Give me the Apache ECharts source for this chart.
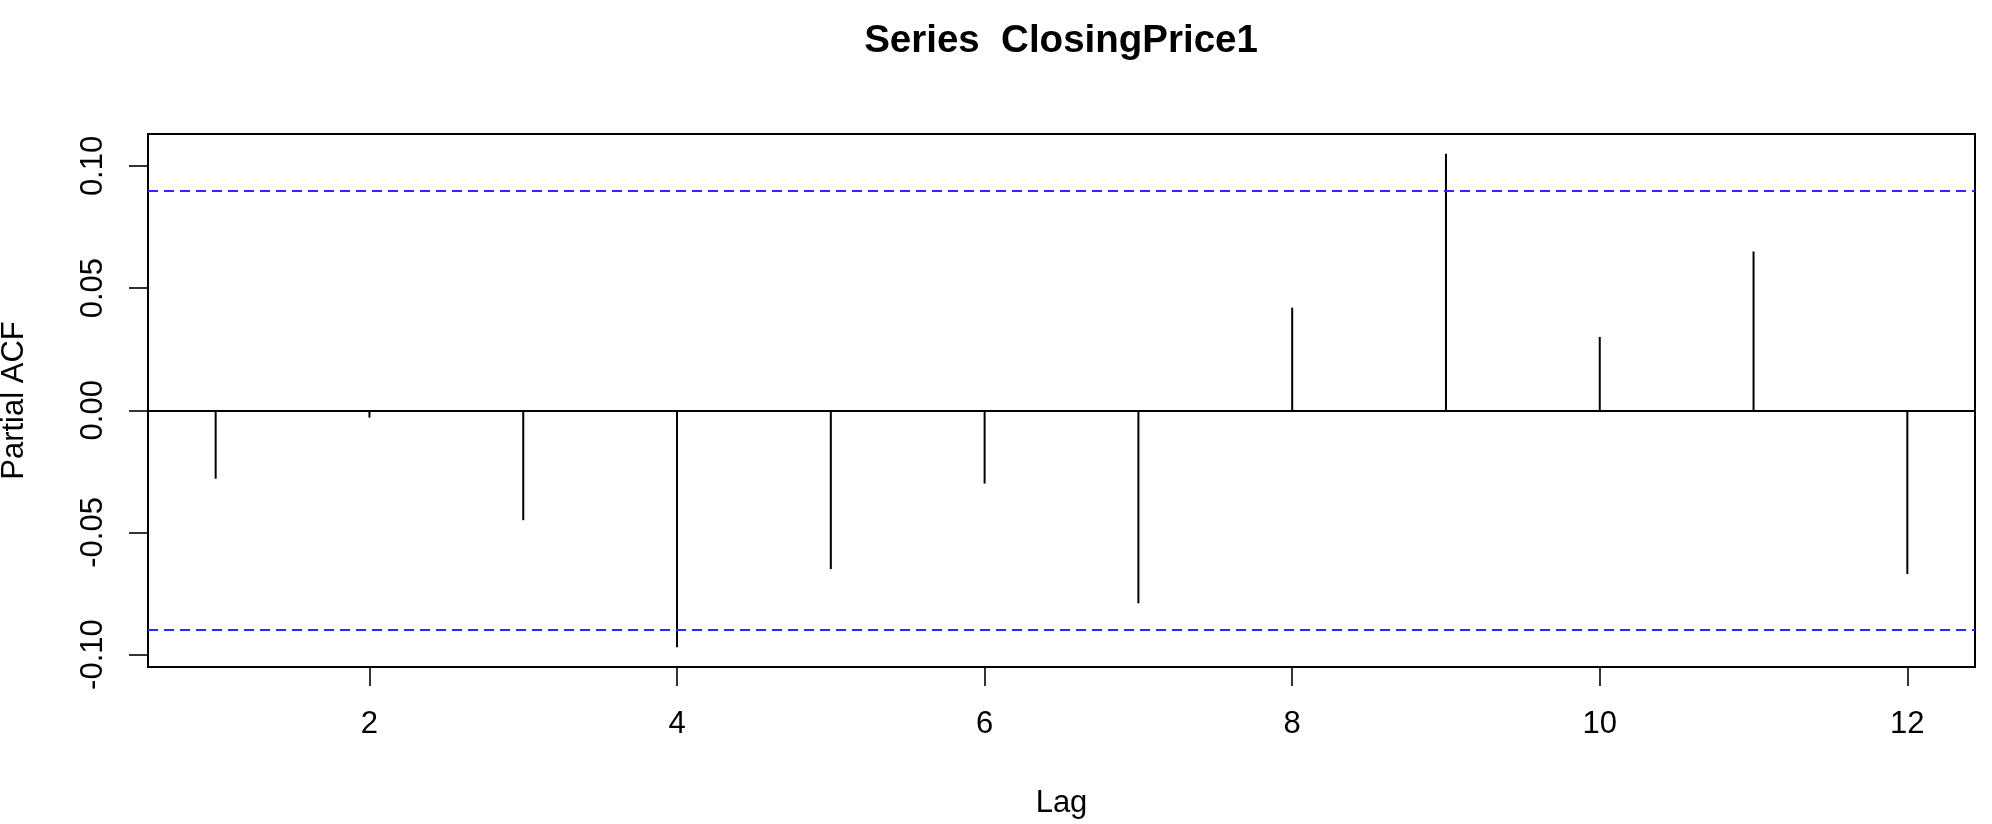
<!DOCTYPE html>
<html>
<head>
<meta charset="utf-8">
<script src="https://cdn.jsdelivr.net/npm/echarts@6/dist/echarts.min.js"></script>
<style>
  html, body { margin: 0; padding: 0; background: #fff; }
  #chart { width: 1992px; height: 824px; }
</style>
</head>
<body>
<div id="chart"></div>
<script>
// ---- data ----
const lags = [1, 2, 3, 4, 5, 6, 7, 8, 9, 10, 11, 12];
const pacf = [-0.028, -0.003, -0.045, -0.097, -0.065, -0.030, -0.079, 0.042, 0.105, 0.030, 0.065, -0.067];
const confLimit = [0.09];
const xTicks = [2, 4, 6, 8, 10, 12];
const yTicks = [-0.10, -0.05, 0.00, 0.05, 0.10];

// R-style 4% axis extension
const xLo = Math.min(...lags), xHi = Math.max(...lags);
const xPad = 0.04 * (xHi - xLo);
const yLo = Math.min(...pacf, -confLimit[0]), yHi = Math.max(...pacf, confLimit[0]);
const yPad = 0.04 * (yHi - yLo);

const FONT = "'Liberation Sans', Arial, sans-serif";
const chart = echarts.init(document.getElementById('chart'), null, { renderer: 'canvas' });

chart.setOption({
  backgroundColor: '#ffffff',
  animation: false,
  title: {
    text: 'Series  ClosingPrice1',
    left: 1061, top: 22, textAlign: 'center', padding: 0,
    textStyle: { fontFamily: FONT, fontSize: 38.5, fontWeight: 'bold', color: '#000' }
  },
  grid: {
    left: 148, top: 134, width: 1827, height: 533,
    containLabel: false, outerBoundsMode: 'none',
    show: true, borderColor: '#000', borderWidth: 2, backgroundColor: 'transparent'
  },
  xAxis: {
    type: 'value',
    min: xLo - xPad, max: xHi + xPad,
    name: 'Lag', nameLocation: 'middle', nameGap: 121,
    nameTextStyle: { fontFamily: FONT, fontSize: 31, color: '#000' },
    axisLine: { show: false, onZero: false },
    axisTick: { show: true, length: 19, inside: false, customValues: xTicks,
                lineStyle: { color: '#000', width: 1.6 } },
    axisLabel: { customValues: xTicks, margin: 42, fontFamily: FONT, fontSize: 31, color: '#000',
                 formatter: v => String(v) },
    splitLine: { show: false }
  },
  yAxis: {
    type: 'value',
    min: yLo - yPad, max: yHi + yPad,
    name: 'Partial ACF', nameLocation: 'middle', nameGap: 118,
    nameTextStyle: { fontFamily: FONT, fontSize: 31, color: '#000' },
    axisLine: { show: false, onZero: false },
    axisTick: { show: true, length: 19, inside: false, customValues: yTicks,
                lineStyle: { color: '#000', width: 1.6 } },
    axisLabel: { customValues: yTicks, rotate: 90, margin: 39, fontFamily: FONT, fontSize: 31, color: '#000',
                 formatter: v => v.toFixed(2) },
    splitLine: { show: false }
  },
  series: [
    {
      type: 'custom',
      data: lags.map((l, i) => [l, pacf[i]]),
      renderItem: function (params, api) {
        const x = api.value(0), y = api.value(1);
        const p0 = api.coord([x, 0]);
        const p1 = api.coord([x, y]);
        return {
          type: 'line',
          shape: { x1: p0[0], y1: p0[1], x2: p1[0], y2: p1[1] },
          style: { stroke: '#000', lineWidth: 2 }
        };
      },
      markLine: {
        silent: true, symbol: 'none', label: { show: false },
        data: [
          { yAxis: 0, lineStyle: { color: '#000', width: 2, type: 'solid' } },
          { yAxis: confLimit[0], lineStyle: { color: '#2a2aff', width: 2, type: [10, 6] } },
          { yAxis: -confLimit[0], lineStyle: { color: '#2a2aff', width: 2, type: [10, 6] } }
        ]
      }
    }
  ]
});
</script>
</body>
</html>
